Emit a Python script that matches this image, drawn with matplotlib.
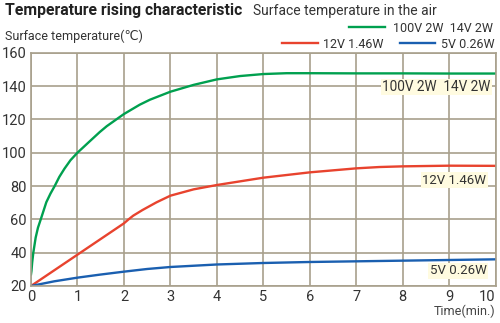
import numpy as np
import matplotlib.pyplot as plt

plt.rcParams['font.family'] = ['Roboto', 'DejaVu Sans']

# time (min.) and surface temperature readings
time_100v = [0, 0.01, 0.025, 0.05, 0.1, 0.15, 0.21, 0.33, 0.42, 0.51, 0.61, 0.72, 0.85, 1,
             1.27, 1.48, 1.63, 2, 2.34, 2.56, 3, 3.5, 4, 4.5, 5, 5.5, 6, 7, 8, 9, 10]
temp_100v = [27, 29, 34, 40, 49, 55, 60, 70.3, 75.5, 80, 85.5, 90.4, 95.5, 100,
             107, 112.4, 115.9, 123.2, 128.8, 131.8, 136.6, 140.7, 144, 146, 147.2, 147.7, 147.7, 147.6, 147.6, 147.5, 147.5]

time_12v = [0, 1, 2, 2.1, 2.2, 2.4, 2.7, 3, 3.5, 4, 5, 6, 7, 7.5, 8, 9, 10]
temp_12v = [20, 38.8, 57.6, 60, 62.2, 65.6, 70.2, 74.2, 78, 80.6, 85, 88.2, 90.6, 91.4, 91.8, 92.2, 92.1]

time_5v = [0, 0.5, 1, 1.48, 2, 2.5, 3, 4, 5, 6, 7, 8, 9, 10]
temp_5v = [20, 22.8, 25, 26.8, 28.6, 30.2, 31.4, 32.9, 33.8, 34.4, 34.8, 35.2, 35.6, 36]

green = '#00a04f'
red = '#e8432e'
blue = '#1a5fb0'
grid_c = '#a8a08c'

fig = plt.figure(figsize=(5, 3.23), dpi=100)
ax = fig.add_axes([0.062, 0.1146, 0.9294, 0.7222])

ax.plot(time_100v, temp_100v, color=green, lw=1.7)
ax.plot(time_12v, temp_12v, color=red, lw=1.7)
ax.plot(time_5v, temp_5v, color=blue, lw=1.7)

ax.set_xlim(0, 10)
ax.set_ylim(20, 160)
ax.set_xticks(range(0, 11))
ax.set_yticks(range(20, 161, 20))
ax.grid(True, color=grid_c, lw=1.2)
ax.set_axisbelow(True)
for s in ax.spines.values():
    s.set_color(grid_c)
    s.set_linewidth(1.2)
ax.tick_params(length=0, labelsize=10.5, colors='#333333', pad=3)
xl = ax.get_xticklabels()
xl[-1].set_horizontalalignment('right')
xl[-1].set_x(10.12)

lbl_box = dict(boxstyle='square,pad=0.1', fc='#fffbe0', ec='none')
ax.text(8.72, 139.5, '100V 2W  14V 2W', fontsize=9.8, color='#333333', ha='center', va='center', bbox=lbl_box)
ax.text(9.8, 83.5, '12V 1.46W', fontsize=9.5, color='#333333', ha='right', va='center', bbox=lbl_box)
ax.text(9.8, 29, '5V 0.26W', fontsize=9.5, color='#333333', ha='right', va='center', bbox=lbl_box)

fig.text(0.99, 0.025, 'Time(min.)', fontsize=9, color='#444444', ha='right', va='baseline')

fig.text(0.01, 0.955, 'Temperature rising characteristic', fontsize=11.3, fontweight='bold', color='#222222', va='baseline')
fig.text(0.506, 0.955, 'Surface temperature in the air', fontsize=10, color='#333333', va='baseline')
fig.text(0.01, 0.875, 'Surface temperature(℃)', fontsize=9, color='#333333', va='baseline')

# legend
fig.lines.append(plt.Line2D([0.698, 0.77], [0.916, 0.916], color=green, lw=1.7, transform=fig.transFigure))
fig.text(0.786, 0.9, '100V 2W  14V 2W', fontsize=9, color='#333333', va='baseline')
fig.lines.append(plt.Line2D([0.564, 0.636], [0.867, 0.867], color=red, lw=1.7, transform=fig.transFigure))
fig.text(0.646, 0.851, '12V 1.46W', fontsize=9, color='#333333', va='baseline')
fig.lines.append(plt.Line2D([0.8, 0.87], [0.867, 0.867], color=blue, lw=1.7, transform=fig.transFigure))
fig.text(0.882, 0.851, '5V 0.26W', fontsize=9, color='#333333', va='baseline')

fig.savefig('out.png', dpi=100)
